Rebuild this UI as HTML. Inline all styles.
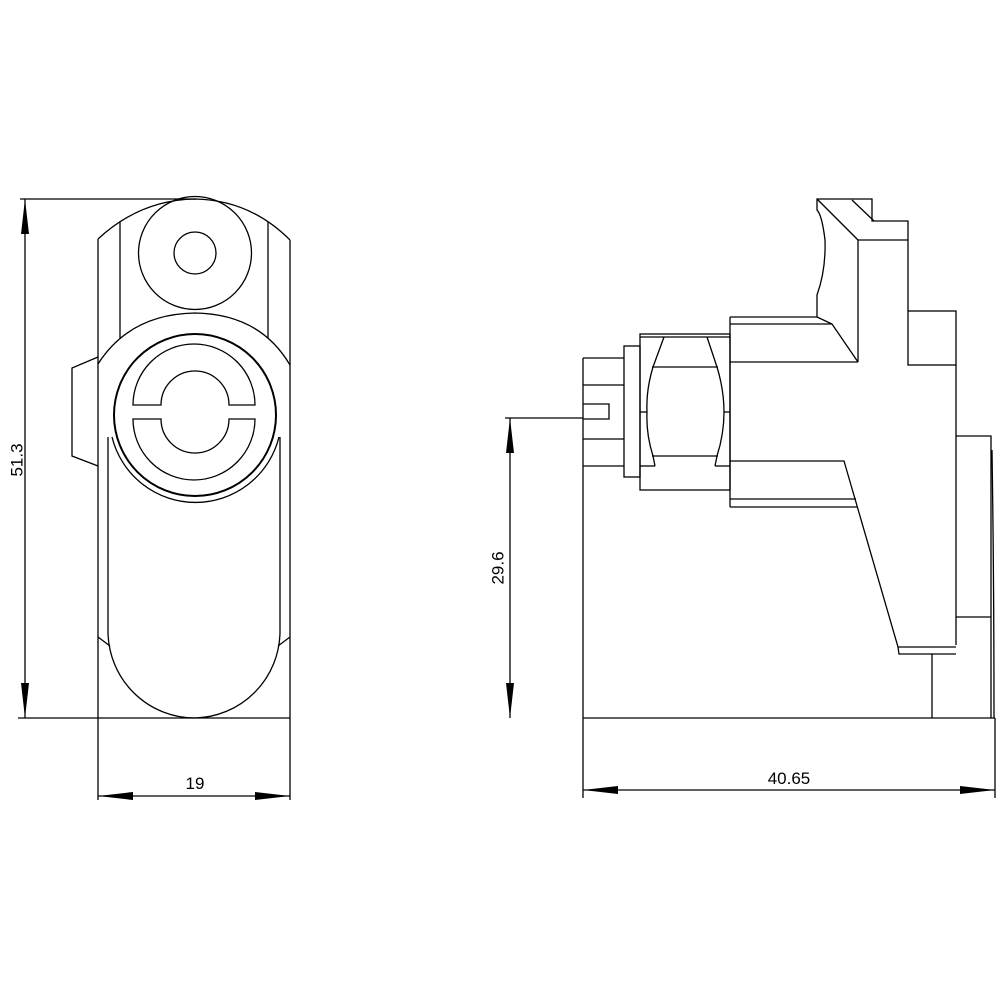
<!DOCTYPE html>
<html><head><style>html,body{margin:0;padding:0;background:#fff}svg{display:block}</style></head>
<body>
<svg width="1000" height="1000" viewBox="0 0 1000 1000" xmlns="http://www.w3.org/2000/svg" fill="none" stroke="#000" stroke-width="1.3">
<!-- LEFT VIEW -->
<line x1="20" y1="199" x2="196" y2="199"/>
<line x1="18" y1="718" x2="290" y2="718"/>
<line x1="98" y1="239" x2="98" y2="800"/>
<line x1="290" y1="240" x2="290" y2="800"/>
<path d="M98,239 Q140,200 195,199 Q250,200 290,240"/>
<line x1="120" y1="222" x2="120" y2="338"/>
<line x1="268" y1="222" x2="268" y2="338"/>
<circle cx="195" cy="253" r="56.5"/>
<circle cx="195" cy="253" r="21"/>
<path d="M98,364 Q130,314 195,313 Q260,314 290,365"/>
<circle cx="195" cy="415" r="81" stroke-width="2"/>
<path d="M112,437 A86,86 0 0 0 279,437"/>
<!-- C shape -->
<path d="M133,405 A61,61 0 0 1 255,405 L229,405 A34,34 0 0 0 161,405 Z"/>
<path d="M133,419 A61,61 0 0 0 255,419 L229,419 A34,34 0 0 1 161,419 Z"/>
<!-- lower pill -->
<path d="M108,437 L108,632 A87,87 0 0 0 195,718 A87,87 0 0 0 280,632 L280,437"/>
<line x1="98" y1="637" x2="110" y2="646"/>
<line x1="290" y1="637" x2="278" y2="646"/>
<!-- left tab -->
<path d="M98,357 L72,368 L72,456 L98,466"/>
<!-- dims left -->
<line x1="25" y1="199" x2="25" y2="718"/>
<path d="M25,199 L21,234 L29,234 Z M25,718 L21,683 L29,683 Z" fill="#000" stroke="none"/>
<text x="17" y="460" transform="rotate(-90 17 460)" text-anchor="middle" dominant-baseline="central" font-family="Liberation Sans, sans-serif" font-size="17" fill="#000" stroke="none">51.3</text>
<line x1="98" y1="796" x2="290" y2="796"/>
<path d="M98,796 L133,792 L133,800 Z M290,796 L255,792 L255,800 Z" fill="#000" stroke="none"/>
<text x="195" y="789" text-anchor="middle" font-family="Liberation Sans, sans-serif" font-size="17" fill="#000" stroke="none">19</text>

<!-- RIGHT VIEW -->
<line x1="583" y1="718" x2="995" y2="718"/>
<line x1="583" y1="358" x2="583" y2="798"/>
<line x1="995" y1="718" x2="995" y2="798"/>
<!-- left small block -->
<path d="M583,358 L624,358"/>
<line x1="583" y1="385" x2="624" y2="385"/>
<path d="M583,404 L609,404 L609,419 L583,419"/>
<line x1="505" y1="418" x2="583" y2="418"/>
<line x1="583" y1="439" x2="624" y2="439"/>
<line x1="583" y1="466" x2="624" y2="466"/>
<rect x="624" y="346" width="16" height="131"/>
<rect x="640" y="334" width="90" height="156"/>
<line x1="640" y1="337" x2="730" y2="337"/>
<line x1="652" y1="367" x2="718" y2="367"/>
<line x1="652" y1="456" x2="718" y2="456"/>
<path d="M664,337 L653,367 Q646,390 647,412 Q646,434 653,456 L655,466"/>
<path d="M707,337 L717,367 Q724,390 724,412 Q724,434 717,456 L715,466"/>
<line x1="640" y1="466" x2="655" y2="466"/>
<line x1="715" y1="466" x2="730" y2="466"/>
<line x1="640" y1="412" x2="647" y2="412"/>
<line x1="724" y1="412" x2="730" y2="412"/>
<!-- main block -->
<line x1="730" y1="317" x2="730" y2="507"/>
<line x1="730" y1="317" x2="817" y2="317"/>
<line x1="730" y1="324" x2="832" y2="324"/>
<line x1="730" y1="362" x2="858" y2="362"/>
<path d="M817,317 L832,324 L858,362"/>
<path d="M817,317 L817,295 Q826,270 825,240 Q822,215 817,210 L817,199 L872,199 L872,221 L908,221 L908,311"/>
<line x1="817" y1="199" x2="858" y2="240"/>
<line x1="852" y1="200" x2="874" y2="221"/>
<line x1="858" y1="240" x2="908" y2="240"/>
<line x1="858" y1="240" x2="858" y2="362"/>
<rect x="908" y="311" width="48" height="54"/>
<line x1="956" y1="365" x2="956" y2="645"/>
<path d="M730,461 L844,461 L898,647 L899,654 L932,654 L932,718"/>
<line x1="730" y1="499" x2="856" y2="499"/>
<line x1="730" y1="507" x2="858" y2="507"/>
<line x1="898" y1="647" x2="956" y2="647"/>
<line x1="932" y1="654" x2="956" y2="654"/>
<path d="M956,436 L991,436 L991,718"/>
<line x1="956" y1="617" x2="991" y2="617"/>
<path d="M992,450 Q994,580 994,718"/>
<!-- dims right -->
<line x1="510" y1="418" x2="510" y2="718"/>
<path d="M510,418 L506,453 L514,453 Z M510,718 L506,683 L514,683 Z" fill="#000" stroke="none"/>
<text x="498" y="568" transform="rotate(-90 498 568)" text-anchor="middle" dominant-baseline="central" font-family="Liberation Sans, sans-serif" font-size="17" fill="#000" stroke="none">29.6</text>
<line x1="583" y1="790" x2="995" y2="790"/>
<path d="M583,790 L618,786 L618,794 Z M995,790 L960,786 L960,794 Z" fill="#000" stroke="none"/>
<text x="789" y="784" text-anchor="middle" font-family="Liberation Sans, sans-serif" font-size="17" fill="#000" stroke="none">40.65</text>
</svg>
</body></html>
